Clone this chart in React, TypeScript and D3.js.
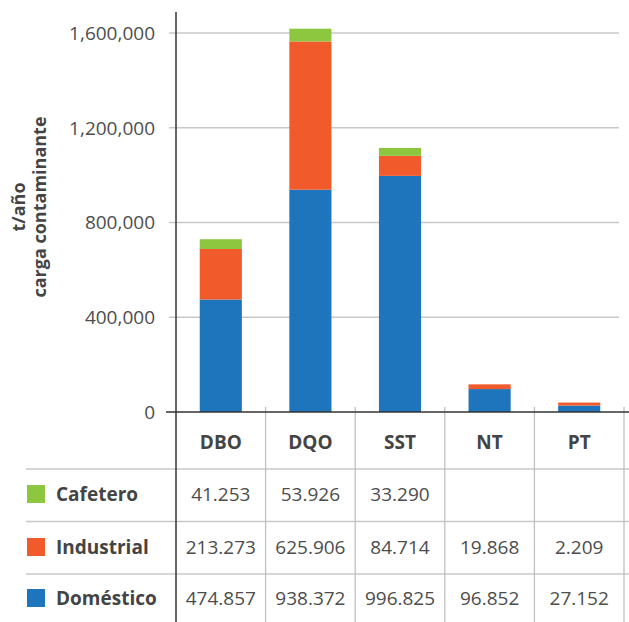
import React from "react";
import * as d3 from "d3";

const categories = ["DBO", "DQO", "SST", "NT", "PT"];
const series = ["Doméstico", "Industrial", "Cafetero"];
const domestico = [474857, 938372, 996825, 96852, 27152];
const industrial = [213273, 625906, 84714, 19868, 2209];
const cafetero: (number | null)[] = [41253, 53926, 33290, null, null];
const yTicks = [0, 400000, 800000, 1200000, 1600000];

const COLORS: Record<string, string> = {
  Doméstico: "#1f75bc",
  Industrial: "#f15a2b",
  Cafetero: "#8dc63f",
};

const WIDTH = 629;
const HEIGHT = 622;
const FONT = "'Open Sans', sans-serif";
const MIN_SEG = 3; // thin segments stay visible

const esLocale = d3.formatLocale({
  decimal: ",",
  thousands: ".",
  grouping: [3],
  currency: ["$", ""],
});
const fmtTable = esLocale.format(",d");
const fmtTick = d3.format(",d");

const App = () => {
  const valuesBySeries: Record<string, (number | null)[]> = {
    Doméstico: domestico,
    Industrial: industrial,
    Cafetero: cafetero,
  };

  const rows = categories.map((c, i) => ({
    category: c,
    Doméstico: domestico[i],
    Industrial: industrial[i],
    Cafetero: cafetero[i] ?? 0,
  }));

  const stacked = d3.stack<any>().keys(series)(rows);

  const axisX = 176;
  const colRight = 624;
  const baseY = 412;

  const yScale = d3.scaleLinear().domain([0, 1600000]).range([baseY, 33]);

  // table columns
  const colScale = d3
    .scaleBand()
    .domain(categories)
    .range([axisX, colRight])
    .padding(0);

  // bars sit in the middle of each column
  const barScale = d3
    .scaleBand()
    .domain(categories)
    .range([axisX, colRight])
    .paddingInner(0.53)
    .paddingOuter(0.265);

  const headerY = 442;
  const rowLines = [469, 521.5, 574];
  const tableRows = ["Cafetero", "Industrial", "Doméstico"];
  const rowCenters = [494, 547, 598];

  return (
    <div style={{ position: "absolute", left: 0, top: 0 }}>
      <svg width={WIDTH} height={HEIGHT} style={{ display: "block", fontFamily: FONT }}>
        <rect width={WIDTH} height={HEIGHT} fill="#fff" />

        {/* gridlines and tick labels */}
        {yTicks.map((t) => (
          <g key={t}>
            {t > 0 && (
              <line
                x1={169}
                x2={619}
                y1={yScale(t)}
                y2={yScale(t)}
                stroke="#c8c8c8"
                strokeWidth={1.3}
              />
            )}
            <text
              x={155}
              y={yScale(t)}
              dy="0.36em"
              textAnchor="end"
              fontSize={19}
              fill="#4d4d4d"
            >
              {fmtTick(t)}
            </text>
          </g>
        ))}

        {/* stacked bars */}
        {stacked.map((layer) => (
          <g key={layer.key} fill={COLORS[layer.key]}>
            {layer.map((d, i) => {
              const y0 = yScale(d[0]);
              let h = y0 - yScale(d[1]);
              if (d[1] - d[0] > 0 && h < MIN_SEG) h = MIN_SEG;
              if (h <= 0) return null;
              return (
                <rect
                  key={i}
                  x={barScale(categories[i])}
                  width={barScale.bandwidth()}
                  y={y0 - h}
                  height={h}
                />
              );
            })}
          </g>
        ))}

        {/* y axis title */}
        <g fontWeight="bold" fontSize={18} fill="#444" textAnchor="middle">
          <text transform={`translate(19,207) rotate(-90)`} dy="0.35em">
            t/año
          </text>
          <text transform={`translate(40,207) rotate(-90)`} dy="0.35em">
            carga contaminante
          </text>
        </g>

        {/* table lines */}
        {rowLines.map((y) => (
          <line key={y} x1={26} x2={WIDTH} y1={y} y2={y} stroke="#c8c8c8" strokeWidth={1.3} />
        ))}
        {categories.map((c) => (
          <line
            key={c}
            x1={(colScale(c) ?? 0) + colScale.bandwidth()}
            x2={(colScale(c) ?? 0) + colScale.bandwidth()}
            y1={407}
            y2={HEIGHT}
            stroke="#c0c0c0"
            strokeWidth={1.3}
          />
        ))}

        {/* axes */}
        <line x1={166} x2={WIDTH} y1={baseY} y2={baseY} stroke="#333" strokeWidth={1.5} />
        <line x1={axisX} x2={axisX} y1={12} y2={HEIGHT} stroke="#333" strokeWidth={1.5} />

        {/* header */}
        {categories.map((c) => (
          <text
            key={c}
            x={(colScale(c) ?? 0) + colScale.bandwidth() / 2}
            y={headerY}
            dy="0.36em"
            textAnchor="middle"
            fontWeight="bold"
            fontSize={19}
            fill="#444"
          >
            {c}
          </text>
        ))}

        {/* rows */}
        {tableRows.map((s, r) => (
          <g key={s}>
            <rect x={27} y={rowCenters[r] - 9} width={18} height={18} fill={COLORS[s]} />
            <text
              x={56}
              y={rowCenters[r]}
              dy="0.36em"
              fontWeight="bold"
              fontSize={19}
              fill="#444"
            >
              {s}
            </text>
            {categories.map((c, i) => {
              const v = valuesBySeries[s][i];
              if (v == null) return null;
              return (
                <text
                  key={c}
                  x={(colScale(c) ?? 0) + colScale.bandwidth() / 2}
                  y={rowCenters[r]}
                  dy="0.36em"
                  textAnchor="middle"
                  fontSize={19}
                  fill="#4d4d4d"
                >
                  {fmtTable(v)}
                </text>
              );
            })}
          </g>
        ))}
      </svg>
    </div>
  );
};

export default App;
